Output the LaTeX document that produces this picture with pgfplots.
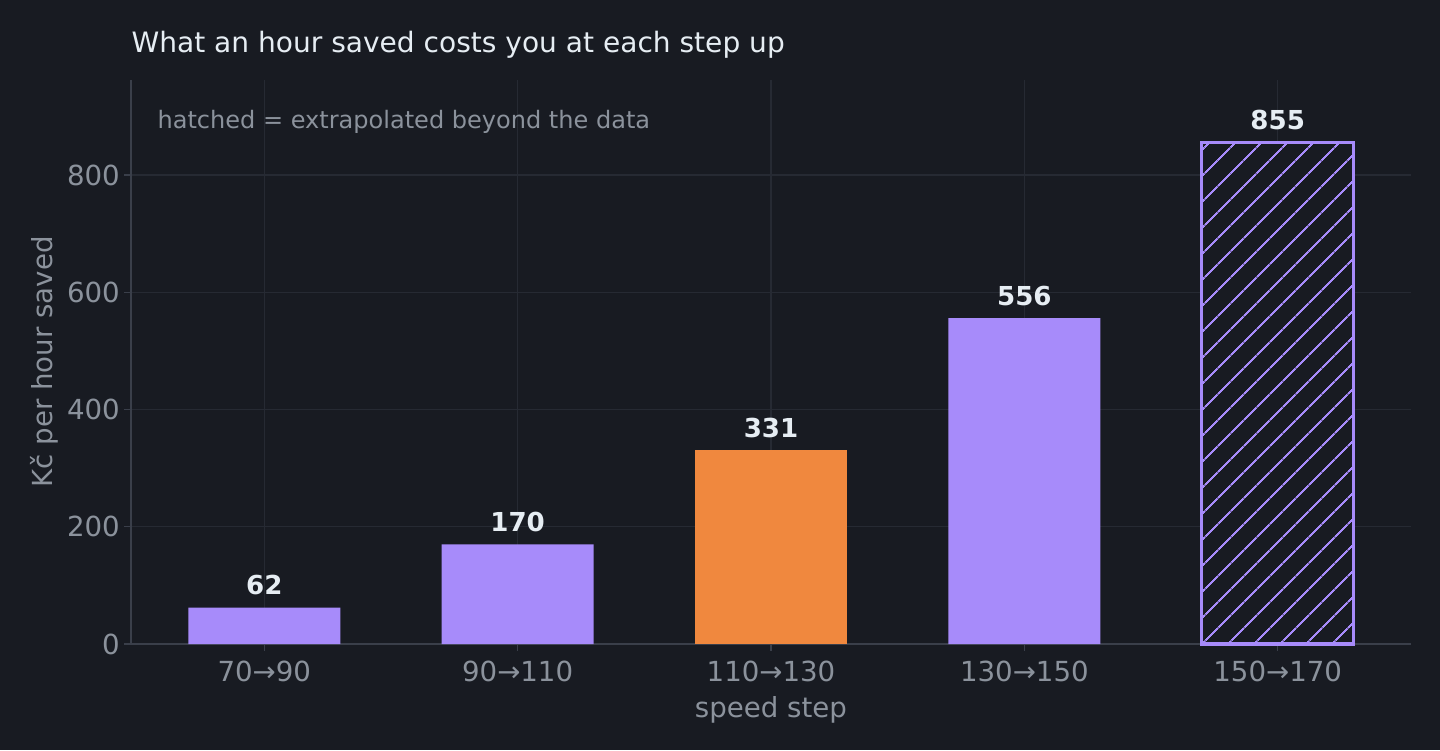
\documentclass[border=0pt]{standalone}
\usepackage{pgfplots}
\pgfplotsset{compat=1.18}
\usepackage{fontspec}
\setmainfont{DejaVu Sans}
\usetikzlibrary{patterns.meta}
\definecolor{bg}{HTML}{181B22}
\definecolor{vio}{HTML}{A78BFA}
\definecolor{org}{HTML}{F0883E}
\definecolor{txt}{HTML}{E6EDF3}
\definecolor{mut}{HTML}{8B929C}
\definecolor{spine}{HTML}{3A3F4A}
\definecolor{gridc}{HTML}{262A33}
\begin{document}
\begin{tikzpicture}
\fill[bg] (0,0) rectangle (518.4pt,270pt);
\node[anchor=base west, text=txt, font=\fontsize{10.1}{12}\selectfont, inner sep=0pt] at (47.16pt,251.0pt) {What an hour saved costs you at each step up};
\begin{axis}[
  at={(47.16pt,38.16pt)}, anchor=south west,
  scale only axis, width=460.8pt, height=203.04pt,
  xmin=-0.526, xmax=4.526, ymin=0, ymax=962,
  axis x line*=bottom, axis y line*=left,
  axis line style={spine, line width=0.5pt, -},
  ybar, bar width=0.6, bar shift=0pt,
  xtick={0,1,2,3,4},
  xticklabels={70→90, 90→110, 110→130, 130→150, 150→170},
  ytick={0,200,400,600,800},
  tick align=outside, major tick length=2.5pt,
  tick style={spine, line width=0.5pt},
  grid=major, grid style={gridc, line width=0.45pt},
  ticklabel style={text=mut, font=\fontsize{9.95}{11}\selectfont},
  yticklabel style={xshift=2pt},
  /pgf/number format/assume math mode=true,
  xlabel={speed step}, ylabel={Kč per hour saved},
  label style={text=mut, font=\fontsize{9.95}{11}\selectfont},
  xlabel style={yshift=1.5pt},
  ylabel style={yshift=-3.6pt},
  nodes near coords,
  every node near coord/.append style={text=txt, font=\bfseries\fontsize{9.4}{11}\selectfont, yshift=0.9pt},
  clip=false,
]
\addplot[fill=vio, draw=none] coordinates {(0,62) (1,170) (3,556)};
\addplot[fill=org, draw=none] coordinates {(2,331)};
\addplot[fill=bg, draw=vio, line width=1.1pt,
  postaction={pattern={Lines[angle=45,distance=6.5pt,line width=0.75pt]}, pattern color=vio}] coordinates {(4,855)};
\end{axis}
\node[anchor=base west, text=mut, font=\fontsize{8.65}{11}\selectfont, inner sep=0pt] at (56.52pt,223.9pt) {hatched = extrapolated beyond the data};
\end{tikzpicture}
\end{document}
